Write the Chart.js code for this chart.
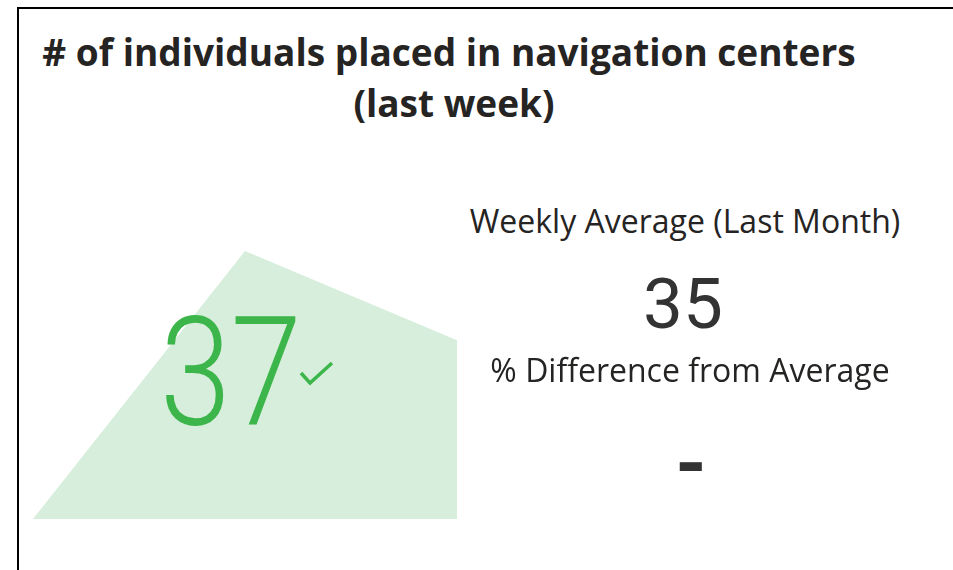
<!DOCTYPE html>
<html>
<head>
<meta charset="utf-8">
<script src="https://cdn.jsdelivr.net/npm/chart.js@4"></script>
<style>
  html, body { margin: 0; padding: 0; background: #fff; overflow: hidden; }
  body { width: 953px; height: 570px; position: relative; font-family: 'Open Sans', 'Noto Sans', sans-serif; color: #252423; }
  .frame { position: absolute; left: 0; top: 0; width: 953px; height: 570px; }
  .title { position: absolute; text-align: center; font-weight: 700; font-size: 37px; line-height: 1; white-space: nowrap; }
  .spark { position: absolute; left: 33px; top: 251px; width: 424px; height: 268px; }
  .kpi { position: absolute; font-family: Roboto, sans-serif; font-weight: 300; color: #3cb64a; font-size: 152px; line-height: 1; transform: scaleX(0.84); transform-origin: 0 0; }
  .check { position: absolute; left: 297px; top: 358px; width: 40px; height: 30px; }
  .lbl { position: absolute; width: 500px; text-align: center; font-size: 32px; line-height: 1; white-space: nowrap; color: #252423; }
  .num { position: absolute; width: 300px; text-align: center; font-family: Roboto, sans-serif; font-size: 71px; line-height: 1; color: #333; }
</style>
</head>
<body>
<svg class="frame" viewBox="0 0 953 570"><polyline points="18,570 18,8 953,8" fill="none" stroke="#000" stroke-width="2"/></svg>
<div class="title" style="top:33px; left:-1px; width:900px">#&nbsp;of individuals placed in navigation centers</div>
<div class="title" style="top:84px; left:4px; width:900px">(last week)</div>
<div class="spark"><canvas id="spark"></canvas></div>
<div class="kpi" id="kpiValue" style="left:160px; top:297px"></div>
<svg class="check" viewBox="0 0 40 30"><polyline points="4,15 13,25 35,5" fill="none" stroke="#3cb64a" stroke-width="3.5"/></svg>
<div class="lbl" style="top:205px; left:435px">Weekly Average (Last Month)</div>
<div class="num" id="avgValue" style="top:268px; left:533px"></div>
<div class="lbl" style="top:354px; left:440px">% Difference from Average</div>
<div class="num" id="diffValue" style="top:424px; left:541px; font-size:80px; font-weight:700"></div>
<script>
// weekly placements over the last few weeks (sparkline)
const WEEKS = ['Week 1', 'Week 2', 'Week 3'];
const PLACEMENTS = [23, 44, 37];
const LAST_WEEK = 37;
const WEEKLY_AVERAGE = 35;
const DIFF_TEXT = '-';

document.getElementById('kpiValue').textContent = LAST_WEEK;
document.getElementById('avgValue').textContent = WEEKLY_AVERAGE;
document.getElementById('diffValue').textContent = DIFF_TEXT;

new Chart(document.getElementById('spark'), {
  type: 'line',
  data: {
    labels: WEEKS,
    datasets: [
      {
        data: PLACEMENTS,
        fill: 'start',
        backgroundColor: '#d6eedb',
        borderWidth: 0,
        pointRadius: 0,
        tension: 0,
      },
    ],
  },
  options: {
    responsive: true,
    maintainAspectRatio: false,
    animation: false,
    layout: { padding: 0 },
    plugins: { legend: { display: false }, tooltip: { enabled: false } },
    scales: {
      x: { display: false, offset: false },
      y: { display: false, min: Math.min(...PLACEMENTS), max: Math.max(...PLACEMENTS) },
    },
  },
});
</script>
</body>
</html>
